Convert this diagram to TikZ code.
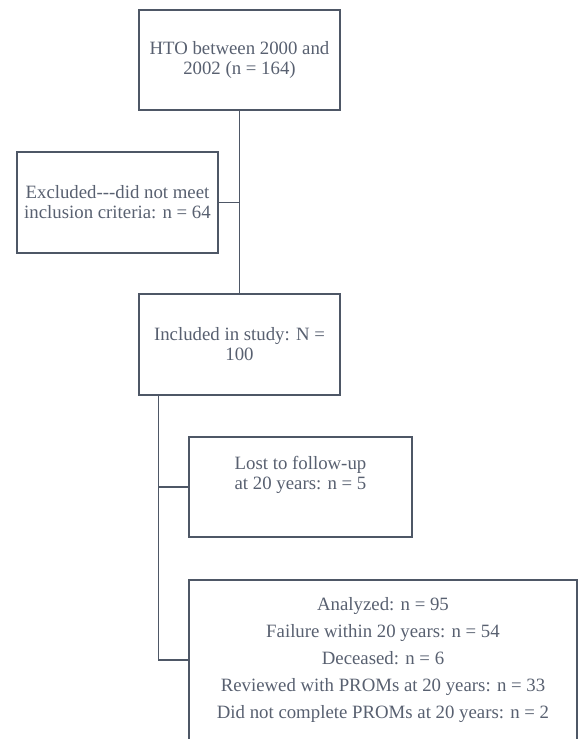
\documentclass[tikz,border=0pt]{standalone}
\usepackage{fontspec}
\setmainfont{Liberation Serif}
\usetikzlibrary{positioning}

\definecolor{linegray}{RGB}{78,87,102}
\definecolor{textgray}{RGB}{88,96,112}

\tikzset{
    flowbox/.style={draw=linegray, line width=1.5pt, text=textgray, align=center,
        inner sep=0pt, font=\fontsize{18.8}{20}\selectfont},
    flowline/.style={draw=linegray, line width=1.5pt}
}

\begin{document}
\begin{tikzpicture}[x=1pt, y={(0pt,-1pt)}]

    % Page size
    \useasboundingbox (0,0) rectangle (578,739);

    % Boxes
    \node[flowbox, minimum width=201pt, minimum height=100pt] (total) at (239.5, 60) {HTO between 2000 and\\2002 (n = 164)}; % All patients
    \node[flowbox, minimum width=201pt, minimum height=101pt] (excluded) at (117.5, 202.5) {Excluded\hbox{-}\hbox{-}\hbox{-}did not meet\\inclusion criteria: n = 64}; % Excluded
    \node[flowbox, minimum width=201pt, minimum height=101pt] (included) at (239.5, 344.5) {Included in study: N =\\100}; % Included

    \node[flowbox, minimum width=223pt, minimum height=100pt] (lost) at (300.5, 487) {}; % Lost box
    \node[text=textgray, align=center, inner sep=0pt, font=\fontsize{18.8}{20}\selectfont, yshift=12pt] (lostText) at (lost.center) {Lost to follow-up\\at 20 years: n = 5};

    \node[flowbox, minimum width=388pt, minimum height=160pt, font=\fontsize{18.8}{27}\selectfont] (analyzed) at (383, 660) {Analyzed: n = 95\\Failure within 20 years: n = 54\\Deceased: n = 6\\Reviewed with PROMs at 20 years: n = 33\\Did not complete PROMs at 20 years: n = 2}; % Analyzed

    % Main vertical line
    \draw[flowline] (total.south) -- (included.north);
    \draw[flowline] (excluded.east) -- (excluded.east -| total.south);

    % Branch below the included box
    \coordinate (branch) at ([xshift=20pt]included.south west);
    \draw[flowline] (branch) |- (analyzed.west);
    \draw[flowline] (lost.west) -- (lost.west -| branch);

\end{tikzpicture}
\end{document}
